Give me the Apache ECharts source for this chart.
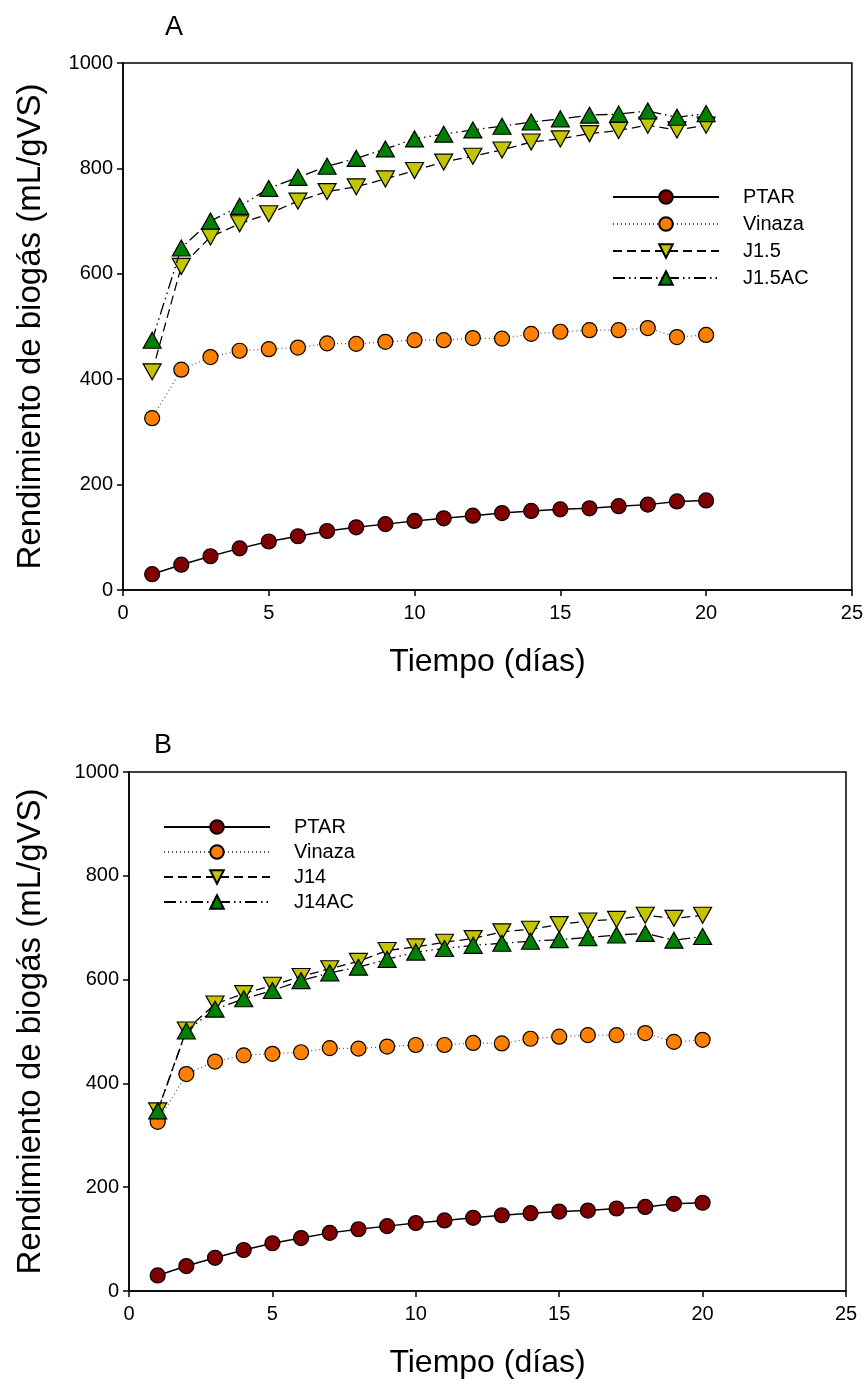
<!DOCTYPE html>
<html>
<head>
<meta charset="utf-8">
<script src="https://cdn.jsdelivr.net/npm/echarts@6/dist/echarts.min.js"></script>
<style>
  html, body { margin: 0; padding: 0; background: #fff; }
  #chart { width: 866px; height: 1387px; }
</style>
</head>
<body>
<div id="chart"></div>
<script>
// values
let days = [1, 2, 3, 4, 5, 6, 7, 8, 9, 10, 11, 12, 13, 14, 15, 16, 17, 18, 19, 20];
let ptar = [30, 48, 64, 79, 92, 102, 112, 119, 125, 131, 136, 141, 146, 150, 153, 155, 159, 162, 168, 170];
let vinaza = [326, 418, 442, 454, 457, 460, 468, 467, 471, 474, 474, 478, 477, 486, 490, 493, 493, 497, 480, 484];
let j15 = [414, 614, 670, 695, 714, 738, 756, 765, 780, 796, 812, 823, 835, 850, 856, 866, 872, 882, 873, 882];
let j15ac = [474, 649, 700, 728, 762, 783, 804, 819, 837, 856, 865, 873, 880, 888, 894, 901, 903, 909, 897, 904];
let j14 = [347, 503, 553, 573, 589, 606, 621, 635, 656, 663, 672, 679, 692, 697, 706, 713, 716, 724, 718, 724];
let j14ac = [347, 501, 543, 563, 579, 598, 613, 624, 639, 653, 660, 666, 670, 674, 677, 681, 686, 689, 676, 683];

let xTicks = { min: 0, max: 25, interval: 5 };
let yTicks = { min: 0, max: 1000, interval: 200 };

const FONT = '"Liberation Sans", Arial, sans-serif';
const DOWN_TRI = 'path://M0,0L2,0L1,1.73Z';

function pairs(ys) {
  return days.map((d, i) => [d, ys[i]]);
}

function makeX(idx) {
  return {
    gridIndex: idx,
    type: 'value',
    min: xTicks.min,
    max: xTicks.max,
    interval: xTicks.interval,
    name: 'Tiempo (días)',
    nameLocation: 'middle',
    nameGap: 56,
    nameTextStyle: { fontFamily: FONT, fontSize: 32, color: '#000' },
    axisLine: { onZero: false, lineStyle: { color: '#000', width: 1.5 } },
    axisTick: { inside: false, length: 6, lineStyle: { color: '#000', width: 1.5 } },
    axisLabel: { margin: 13, fontFamily: FONT, fontSize: 20, color: '#000' },
    splitLine: { show: false },
  };
}

function makeY(idx, gap) {
  return {
    gridIndex: idx,
    type: 'value',
    min: yTicks.min,
    max: yTicks.max,
    interval: yTicks.interval,
    name: 'Rendimiento de biogás (mL/gVS)',
    nameLocation: 'middle',
    nameGap: gap,
    nameTextStyle: { fontFamily: FONT, fontSize: 33, color: '#000' },
    axisLine: { onZero: false, lineStyle: { color: '#000', width: 1.5 } },
    axisTick: { inside: false, length: 6, lineStyle: { color: '#000', width: 1.5 } },
    axisLabel: {
      margin: 10, fontFamily: FONT, fontSize: 20, color: '#000',
      formatter: (v) => String(v),
    },
    splitLine: { show: false },
  };
}

function makeSeries(idx, names, dataSets) {
  let styles = [
    { symbol: 'circle', size: 15, fill: '#800000', line: { color: '#000', width: 1.5, type: 'solid' } },
    { symbol: 'circle', size: 15, fill: '#ff8000', line: { color: '#555', width: 1.2, type: [1, 3] } },
    { symbol: DOWN_TRI, size: [18, 16], fill: '#c4c400', line: { color: '#000', width: 1.3, type: [9, 5] } },
    { symbol: 'triangle', size: [18, 16], fill: '#008000', line: { color: '#000', width: 1.3, type: [12, 4, 1.5, 4, 1.5, 4] } },
  ];
  return names.map((n, i) => ({
    name: n,
    type: 'line',
    xAxisIndex: idx,
    yAxisIndex: idx,
    data: pairs(dataSets[i]),
    symbol: styles[i].symbol,
    symbolSize: styles[i].size,
    showAllSymbol: true,
    itemStyle: { color: styles[i].fill, borderColor: '#000', borderWidth: 1.2 },
    lineStyle: styles[i].line,
    emphasis: { disabled: true },
    animation: false,
    z: 2 + i,
  }));
}

let namesA = ['PTAR', 'Vinaza', 'J1.5', 'J1.5AC'];
let namesB = ['PTAR', 'Vinaza', 'J14', 'J14AC'];

let myChart = echarts.init(document.getElementById('chart'), null, { renderer: 'canvas' });

let legendBase = {
  orient: 'vertical',
  itemWidth: 106,
  itemHeight: 17,
  selectedMode: false,
  textStyle: { fontFamily: FONT, fontSize: 20, color: '#000', padding: [0, 0, 0, 19] },
};

let option = {
  animation: false,
  backgroundColor: '#fff',
  title: [
    { text: 'A', left: 160, top: 9, textStyle: { fontFamily: FONT, fontSize: 27, fontWeight: 'normal', color: '#000' } },
    { text: 'B', left: 149, top: 727, textStyle: { fontFamily: FONT, fontSize: 27, fontWeight: 'normal', color: '#000' } },
  ],
  grid: [
    { left: 123, right: 14, top: 63, height: 527, show: true, borderColor: '#000', borderWidth: 1.5, backgroundColor: 'transparent' },
    { left: 129, right: 20, top: 772, height: 519, show: true, borderColor: '#000', borderWidth: 1.5, backgroundColor: 'transparent' },
  ],
  legend: [
    Object.assign({}, legendBase, { data: namesA, left: 607, top: 182, itemGap: 7 }),
    Object.assign({}, legendBase, { data: namesB, left: 158, top: 812, itemGap: 5 }),
  ],
  xAxis: [makeX(0), makeX(1)],
  yAxis: [makeY(0, 76), makeY(1, 82)],
  series: makeSeries(0, namesA, [ptar, vinaza, j15, j15ac])
    .concat(makeSeries(1, namesB, [ptar, vinaza, j14, j14ac])),
};

myChart.setOption(option);
</script>
</body>
</html>
